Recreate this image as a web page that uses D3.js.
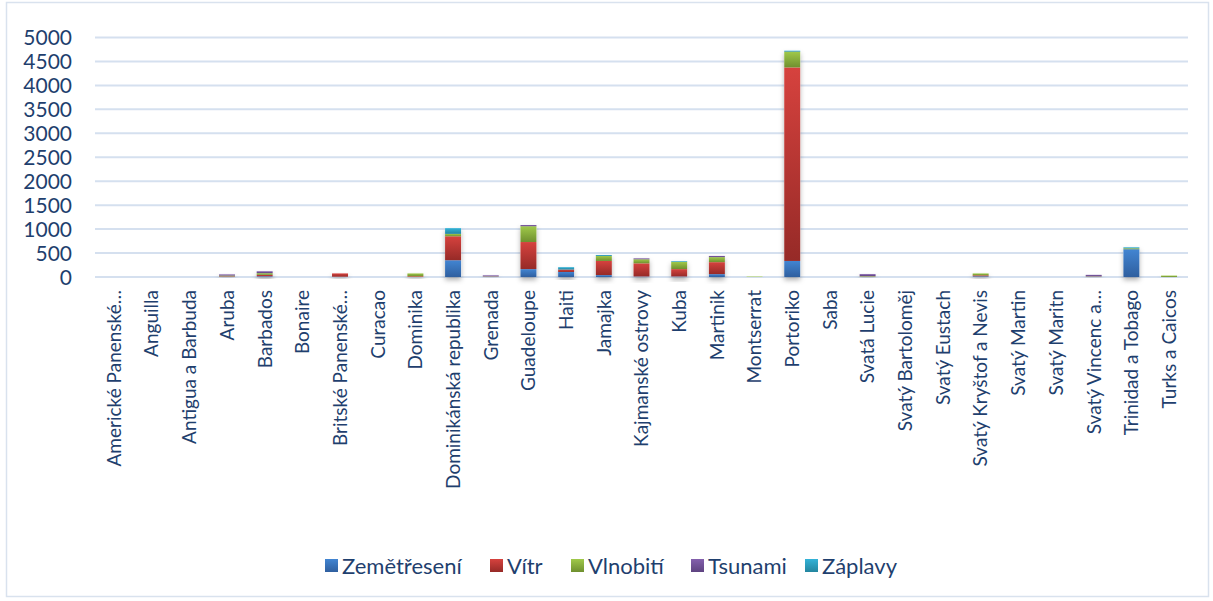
<!DOCTYPE html>
<html>
<head>
<meta charset="utf-8">
<script src="https://cdn.jsdelivr.net/npm/d3@7"></script>
<style>
  body { margin: 0; background: #fff; }
  text { font-family: Lato, "Open Sans", sans-serif; fill: #1f3f6e; }
</style>
</head>
<body>
<div id="chart"></div>
<script>
// Categories (islands)
const countries = ["Americké Panenské…", "Anguilla", "Antigua a Barbuda", "Aruba", "Barbados", "Bonaire",
  "Britské Panenské…", "Curacao", "Dominika", "Dominikánská republika", "Grenada", "Guadeloupe", "Haiti",
  "Jamajka", "Kajmanské ostrovy", "Kuba", "Martinik", "Montserrat", "Portoriko", "Saba", "Svatá Lucie",
  "Svatý Bartoloměj", "Svatý Eustach", "Svatý Kryštof a Nevis", "Svatý Martin", "Svatý Maritn",
  "Svatý Vincenc a…", "Trinidad a Tobago", "Turks a Caicos"];

const seriesNames = ["Zemětřesení", "Vítr", "Vlnobití", "Tsunami", "Záplavy"];

// Values per series, in the order of countries
const zemetreseni = [0, 0, 0, 5, 15, 0, 5, 0, 0, 350, 5, 165, 105, 40, 10, 10, 60, 0, 335, 0, 5, 0, 0, 15, 0, 0, 5, 580, 0];
const vitr        = [0, 0, 0, 10, 30, 0, 70, 0, 15, 500, 5, 565, 50, 295, 275, 155, 250, 0, 4040, 0, 5, 0, 0, 20, 0, 0, 5, 0, 0];
const vlnobiti    = [0, 0, 0, 15, 35, 0, 0, 0, 60, 50, 5, 330, 0, 105, 85, 150, 105, 10, 330, 0, 10, 0, 0, 40, 0, 0, 5, 20, 30];
const tsunami     = [0, 0, 0, 25, 40, 0, 0, 0, 0, 0, 20, 25, 0, 0, 20, 0, 25, 0, 0, 0, 40, 0, 0, 0, 0, 0, 30, 0, 0];
const zaplavy     = [0, 0, 0, 0, 0, 0, 0, 0, 0, 120, 0, 0, 50, 20, 0, 15, 0, 0, 20, 0, 0, 0, 0, 0, 0, 0, 0, 20, 0];

const yTicks = [0, 500, 1000, 1500, 2000, 2500, 3000, 3500, 4000, 4500, 5000];

// gradient colours (top, bottom) per series
const colors = [
  ["#4285d2", "#2f5f9f"],
  ["#d6423e", "#962a27"],
  ["#a0c94a", "#6f902f"],
  ["#8460ad", "#5e4380"],
  ["#33b3d8", "#23859f"]
];

const table = countries.map((c, i) => ({
  country: c,
  "Zemětřesení": zemetreseni[i],
  "Vítr": vitr[i],
  "Vlnobití": vlnobiti[i],
  "Tsunami": tsunami[i],
  "Záplavy": zaplavy[i]
}));

const W = 1213, H = 601;
const plot = { left: 95, right: 1188, top: 37.5, bottom: 277 };

const svg = d3.select("#chart").append("svg")
  .attr("width", W).attr("height", H);

const defs = svg.append("defs");
colors.forEach((c, i) => {
  const g = defs.append("linearGradient").attr("id", "grad" + i)
    .attr("x1", 0).attr("y1", 0).attr("x2", 0).attr("y2", 1);
  g.append("stop").attr("offset", "0%").attr("stop-color", c[0]);
  g.append("stop").attr("offset", "100%").attr("stop-color", c[1]);
});
const shadow = defs.append("filter").attr("id", "shadow")
  .attr("x", "-50%").attr("y", "-20%").attr("width", "200%").attr("height", "150%");
shadow.append("feDropShadow").attr("dx", 0).attr("dy", 3).attr("stdDeviation", 2.5)
  .attr("flood-color", "#000").attr("flood-opacity", 0.3);

// outer border
svg.append("rect")
  .attr("x", 6.5).attr("y", 2.5).attr("width", 1202).attr("height", 594)
  .attr("fill", "none").attr("stroke", "#d9e2ee").attr("stroke-width", 1.5);

const x = d3.scaleBand()
  .domain(countries)
  .range([plot.left, plot.right])
  .paddingInner(0.575).paddingOuter(0.29);

const y = d3.scaleLinear()
  .domain([0, 5000])
  .range([plot.bottom, plot.top]);

// gridlines
svg.append("g")
  .selectAll("line")
  .data(yTicks)
  .enter().append("line")
    .attr("x1", plot.left).attr("x2", plot.right)
    .attr("y1", d => y(d)).attr("y2", d => y(d))
    .attr("stroke", "#d5e0ef").attr("stroke-width", 2);

// y labels
svg.append("g")
  .selectAll("text")
  .data(yTicks)
  .enter().append("text")
    .attr("x", 72)
    .attr("y", d => y(d))
    .attr("dy", "0.36em")
    .attr("text-anchor", "end")
    .style("font-size", "21px")
    .text(d => d);

// shadow layer under the stacks
const totals = table.map(d => d3.sum(seriesNames, k => d[k]));
svg.append("g")
  .selectAll("rect")
  .data(table.filter((d, i) => totals[i] > 0))
  .enter().append("rect")
    .attr("x", d => x(d.country))
    .attr("width", x.bandwidth())
    .attr("y", d => y(d3.sum(seriesNames, k => d[k])))
    .attr("height", d => y(0) - y(d3.sum(seriesNames, k => d[k])))
    .attr("fill", "#fff")
    .attr("filter", "url(#shadow)");

// stacked bars
const layers = d3.stack().keys(seriesNames)(table);

svg.append("g")
  .selectAll("g")
  .data(layers)
  .enter().append("g")
    .attr("fill", (d, i) => "url(#grad" + i + ")")
  .selectAll("rect")
  .data(d => d)
  .enter().append("rect")
    .attr("x", d => x(d.data.country))
    .attr("width", x.bandwidth())
    .attr("y", d => y(d[1]))
    .attr("height", d => y(d[0]) - y(d[1]));

// x labels (rotated)
svg.append("g")
  .selectAll("text")
  .data(countries)
  .enter().append("text")
    .attr("transform", d => "translate(" + (x(d) + x.bandwidth() / 2) + ",290) rotate(-90)")
    .attr("text-anchor", "end")
    .attr("dy", "0.36em")
    .style("font-size", "19px")
    .text(d => d);

// legend
const legendX = [325, 490, 571, 691, 805];
const legend = svg.append("g")
  .selectAll("g")
  .data(seriesNames)
  .enter().append("g")
    .attr("transform", (d, i) => "translate(" + legendX[i] + ",566)");
legend.append("rect")
  .attr("x", 0).attr("y", -7).attr("width", 13).attr("height", 13)
  .attr("fill", (d, i) => "url(#grad" + i + ")");
legend.append("text")
  .attr("x", 17).attr("dy", "0.36em")
  .style("font-size", "22px")
  .text(d => d);
</script>
</body>
</html>
